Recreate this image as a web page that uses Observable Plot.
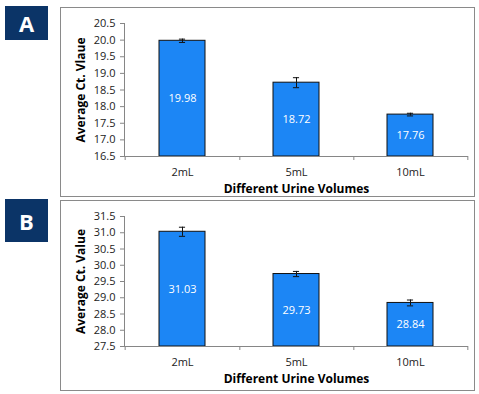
<!DOCTYPE html>
<html>
<head>
<meta charset="utf-8">
<script src="https://cdn.jsdelivr.net/npm/d3@7"></script>
<script src="https://cdn.jsdelivr.net/npm/@observablehq/plot@0.6"></script>
<style>
  html, body { margin: 0; padding: 0; background: #fff; }
  body { width: 479px; height: 394px; position: relative; overflow: hidden; font-family: "Open Sans", sans-serif; }
  .tag { position: absolute; left: 5px; width: 43px; height: 34px; background: #0b3467; color: #fff;
         font: bold 22px "Open Sans", sans-serif; display: flex; align-items: center; justify-content: center; }
  .panel { position: absolute; left: 60px; width: 415px; border: 1px solid #8a8a8a; box-sizing: border-box; }
  .panel svg { display: block; }
  .panel g[aria-label="y-axis label"] text, .panel g[aria-label="x-axis label"] text { font-weight: bold; font-size: 12px; fill: #000; }
</style>
</head>
<body>
<div class="tag" style="top:6px">A</div>
<div class="panel" id="pA" style="top:7px;height:190px"></div>
<div class="tag" style="top:199px;height:43px">B</div>
<div class="panel" id="pB" style="top:200px;height:191px"></div>
<script>
const categories = ["2mL", "5mL", "10mL"];
const valuesA = [19.98, 18.72, 17.76];
const errorsA = [0.05, 0.15, 0.04];
const valuesB = [31.03, 29.73, 28.84];
const errorsB = [0.14, 0.08, 0.09];
const yDomainA = [16.5, 20.5];
const yDomainB = [27.5, 31.5];
const yTicksA = [16.5, 17.0, 17.5, 18.0, 18.5, 19.0, 19.5, 20.0, 20.5];
const yTicksB = [27.5, 28.0, 28.5, 29.0, 29.5, 30.0, 30.5, 31.0, 31.5];
const yLabelA = "Average Ct. Vlaue";
const yLabelB = "Average Ct. Value";
const xLabel = "Different Urine Volumes";

function chart(values, errors, domain, ticks, yLabel, opts) {
  const data = categories.map((c, i) => ({cat: c, v: values[i], e: errors[i]}));
  const W = 413, H = opts.height;
  const mL = 63, mR = 6;
  const pin = 0.6, pout = 0.3;
  const step = (W - mL - mR) / (categories.length - pin + 2 * pout);
  const bandwidth = step * (1 - pin);
  const capInset = (bandwidth - 6) / 2;
  const axisColor = "#868686";
  return Plot.plot({
    width: W, height: H,
    marginLeft: mL, marginRight: mR, marginTop: opts.mt, marginBottom: opts.mb,
    style: {fontFamily: "Open Sans, sans-serif", fontSize: "11px", color: "#222", background: "transparent"},
    x: {domain: categories, paddingInner: pin, paddingOuter: pout, label: null},
    y: {domain, label: null},
    marks: [
      Plot.barY(data, {x: "cat", y1: domain[0], y2: "v", fill: "#1c86f5", stroke: "#111", strokeWidth: 1}),
      Plot.ruleX(data, {x: "cat", y1: d => d.v - d.e, y2: d => d.v + d.e, stroke: "#111", strokeWidth: 1}),
      Plot.tickY(data, {x: "cat", y: d => d.v - d.e, stroke: "#111", insetLeft: capInset, insetRight: capInset}),
      Plot.tickY(data, {x: "cat", y: d => d.v + d.e, stroke: "#111", insetLeft: capInset, insetRight: capInset}),
      Plot.text(data, {x: "cat", y: d => (d.v + domain[0]) / 2, text: d => d.v.toFixed(2), fill: "#fff", fontSize: 11}),
      Plot.ruleY([domain[0]], {stroke: axisColor}),
      Plot.frame({anchor: "left", stroke: axisColor}),
      Plot.axisY({ticks, tickFormat: d3.format(".1f"), tickSize: 4, stroke: axisColor, tickPadding: 5,
        label: yLabel, labelAnchor: "center", labelArrow: "none", labelOffset: 48, fill: "#222"}),
      Plot.axisX({tickSize: 0, tickPadding: opts.tp, label: xLabel, labelAnchor: "center", labelArrow: "none", labelOffset: opts.lo, fill: "#222"}),
      Plot.axisX({tickSize: 4, text: null, label: null, dx: step / 2, stroke: axisColor}),
      Plot.axisX({tickSize: 4, text: null, label: null, dx: -step / 2, stroke: axisColor, filter: (d, i) => i === 0})
    ]
  });
}

document.getElementById("pA").append(chart(valuesA, errorsA, yDomainA, yTicksA, yLabelA, {height: 188, mt: 15, mb: 40, tp: 12, lo: 36}));
document.getElementById("pB").append(chart(valuesB, errorsB, yDomainB, yTicksB, yLabelB, {height: 189, mt: 15, mb: 44, tp: 12, lo: 36}));
</script>
</body>
</html>
